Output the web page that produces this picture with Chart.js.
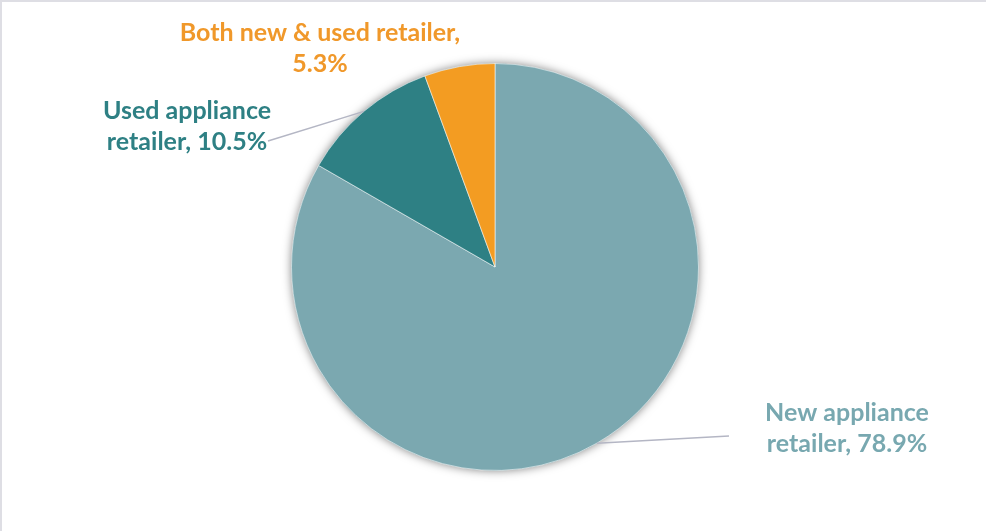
<!DOCTYPE html>
<html>
<head>
<meta charset="utf-8">
<script src="https://cdn.jsdelivr.net/npm/chart.js@4"></script>
<style>
  html, body { margin: 0; padding: 0; background: #fff; }
  #wrap { position: relative; width: 986px; height: 531px; }
</style>
</head>
<body>
<div id="wrap"><canvas id="myChart" width="986" height="531"></canvas></div>
<script>
const categories = ['New appliance retailer', 'Used appliance retailer', 'Both new & used retailer'];
const shares = [78.9, 10.5, 5.3];
const colors = ['#7BA8B0', '#2E8084', '#F39C22'];
const labelColors = ['#78A8B0', '#2E8084', '#F0982A'];

// where each label sits (centre of text block) and where its leader line ends
const labelLines = [
  ['New appliance', 'retailer, 78.9%'],
  ['Used appliance', 'retailer, 10.5%'],
  ['Both new & used retailer,', '5.3%']
];
const labelPos = [[847, 428], [187, 126], [320, 48]];
const leaderEnd = [[729, 436], [268, 141], null];

// light frame round the chart area
const frame = {
  id: 'frame',
  beforeDraw(chart) {
    const c = chart.ctx;
    c.save();
    c.fillStyle = '#dedee4';
    c.fillRect(0, 0, chart.width, 2);
    c.fillRect(0, 0, 2, chart.height);
    c.restore();
  }
};

// soft shadow under the whole pie
const pieShadow = {
  id: 'pieShadow',
  beforeDatasetsDraw(chart) {
    const arc = chart.getDatasetMeta(0).data[0];
    if (!arc) return;
    const c = chart.ctx;
    c.save();
    c.shadowColor = 'rgba(0,0,0,0.5)';
    c.shadowBlur = 10;
    c.fillStyle = '#7BA8B0';
    c.beginPath();
    c.arc(arc.x, arc.y, arc.outerRadius, 0, Math.PI * 2);
    c.fill();
    c.restore();
  }
};

const sliceLabels = {
  id: 'sliceLabels',
  afterDatasetsDraw(chart) {
    const c = chart.ctx;
    const arcs = chart.getDatasetMeta(0).data;
    c.save();
    arcs.forEach((arc, i) => {
      const mid = (arc.startAngle + arc.endAngle) / 2;
      if (leaderEnd[i]) {
        c.strokeStyle = '#b4b6c4';
        c.lineWidth = 1.5;
        c.beginPath();
        c.moveTo(arc.x + Math.cos(mid) * arc.outerRadius, arc.y + Math.sin(mid) * arc.outerRadius);
        c.lineTo(leaderEnd[i][0], leaderEnd[i][1]);
        c.stroke();
      }
      c.fillStyle = labelColors[i];
      c.font = 'bold 25px Lato';
      c.textAlign = 'center';
      c.textBaseline = 'middle';
      const [lx, ly] = labelPos[i];
      labelLines[i].forEach((t, k) => c.fillText(t, lx, ly + (k - 0.5) * 31));
    });
    c.restore();
  }
};

new Chart(document.getElementById('myChart'), {
  type: 'pie',
  data: {
    labels: categories,
    datasets: [{
      data: shares,
      backgroundColor: colors,
      borderColor: 'rgba(255,255,255,0.55)',
      borderWidth: 1
    }]
  },
  options: {
    responsive: false,
    animation: false,
    layout: { padding: { top: 63, bottom: 60, left: 4, right: 0 } },
    plugins: { legend: { display: false }, tooltip: { enabled: false } }
  },
  plugins: [frame, pieShadow, sliceLabels]
});
</script>
</body>
</html>
